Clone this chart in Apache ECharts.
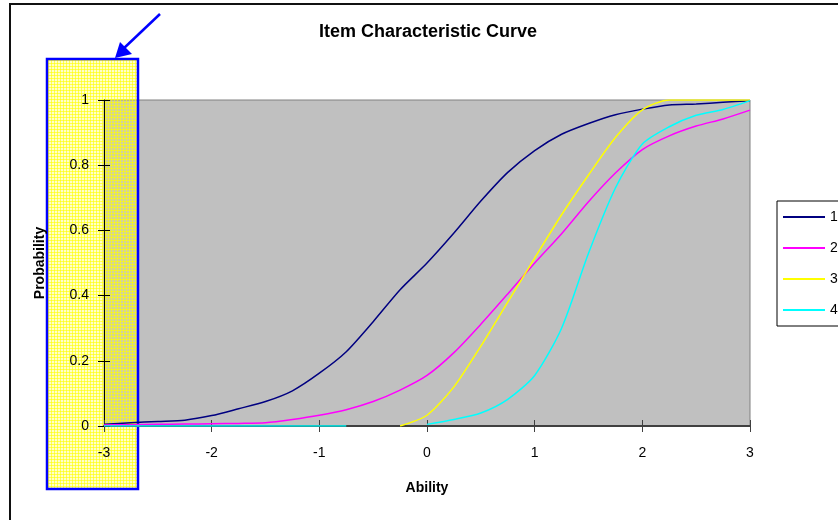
<!DOCTYPE html>
<html>
<head>
<meta charset="utf-8">
<script src="https://cdn.jsdelivr.net/npm/echarts@6/dist/echarts.min.js"></script>
<style>
  html, body { margin: 0; padding: 0; background: #fff; }
  #chart { width: 838px; height: 520px; }
</style>
</head>
<body>
<div id="chart"></div>
<script>
// ability points on the x axis
const abilities = [-3, -2.75, -2.5, -2.25, -2, -1.75, -1.5, -1.25, -1, -0.75, -0.5, -0.25,
  0, 0.25, 0.5, 0.75, 1, 1.25, 1.5, 1.75, 2, 2.25, 2.5, 2.75, 3]

// probability of each item
const item1 = [0.005, 0.010, 0.014, 0.018, 0.032, 0.053, 0.075, 0.108, 0.162, 0.228, 0.320, 0.418,
  0.500, 0.592, 0.690, 0.778, 0.845, 0.895, 0.928, 0.955, 0.972, 0.985, 0.988, 0.993, 0.998]
const item2 = [0.003, 0.004, 0.005, 0.006, 0.007, 0.008, 0.010, 0.020, 0.033, 0.050, 0.075, 0.110,
  0.155, 0.225, 0.312, 0.405, 0.500, 0.590, 0.688, 0.776, 0.848, 0.890, 0.920, 0.942, 0.969]
const item3 = [null, null, null, null, null, null, null, null, null, null, null, 0,
  0.033, 0.120, 0.245, 0.380, 0.515, 0.648, 0.770, 0.885, 0.970, 1, 1, 1, 1]
const item4 = [0, 0, 0, 0, 0, 0, 0, 0, 0, 0, null, null,
  0.005, 0.020, 0.040, 0.082, 0.155, 0.300, 0.530, 0.730, 0.865, 0.918, 0.953, 0.971, 0.998]

const itemNames = ['1', '2', '3', '4']
const itemColors = ['#000080', '#FF00FF', '#FFFF00', '#00FFFF']
const itemValues = [item1, item2, item3, item4]

const chart = echarts.init(document.getElementById('chart'), null, {renderer: 'canvas'})

// yellow grid pattern for the highlight box
const pat = document.createElement('canvas')
pat.width = 3
pat.height = 3
const pctx = pat.getContext('2d')
pctx.fillStyle = 'rgba(255,255,60,0.28)'
pctx.fillRect(0, 0, 3, 3)
pctx.fillStyle = 'rgba(255,255,0,0.6)'
pctx.fillRect(0, 0, 3, 1)
pctx.fillRect(0, 0, 1, 3)

const font = '"Liberation Sans", Arial, sans-serif'

const option = {
  animation: false,
  title: {
    text: 'Item Characteristic Curve',
    left: 428,
    top: 23,
    textAlign: 'center',
    padding: 0,
    textStyle: {fontFamily: font, fontSize: 18, fontWeight: 'bold', color: '#000'}
  },
  legend: {
    orient: 'vertical',
    left: 777,
    top: 201,
    padding: [9, 40, 9, 6],
    icon: 'rect',
    itemWidth: 42,
    itemHeight: 2,
    itemGap: 17,
    borderColor: '#000',
    borderWidth: 1,
    backgroundColor: '#fff',
    data: itemNames,
    textStyle: {fontFamily: font, fontSize: 14, lineHeight: 14, color: '#000'}
  },
  grid: {
    left: 104,
    top: 100,
    right: 88,
    bottom: 94,
    show: true,
    backgroundColor: '#C0C0C0',
    borderColor: '#808080',
    borderWidth: 1
  },
  xAxis: [
    {
      type: 'value',
      min: -3,
      max: 3,
      interval: 1,
      z: 3,
      name: 'Ability',
      nameLocation: 'middle',
      nameGap: 55,
      nameTextStyle: {fontFamily: font, fontSize: 14, fontWeight: 'bold', color: '#000'},
      splitLine: {show: false},
      axisLine: {onZero: false, lineStyle: {color: '#404040', width: 2}},
      axisTick: {show: true, length: 6, lineStyle: {color: '#404040'}},
      axisLabel: {fontFamily: font, fontSize: 14, color: '#000', margin: 20}
    },
    {
      type: 'value',
      min: -3,
      max: 3,
      interval: 1,
      z: 3,
      position: 'bottom',
      splitLine: {show: false},
      axisLine: {show: false, onZero: false},
      axisTick: {show: true, inside: true, length: 6, lineStyle: {color: '#404040'}},
      axisLabel: {show: false}
    }
  ],
  yAxis: [
    {
      type: 'value',
      min: 0,
      max: 1,
      interval: 0.2,
      z: 3,
      name: 'Probability',
      nameLocation: 'middle',
      nameGap: 57,
      nameTextStyle: {fontFamily: font, fontSize: 14, fontWeight: 'bold', color: '#000'},
      splitLine: {show: false},
      axisLine: {show: true, onZero: false, lineStyle: {color: '#000', width: 1}},
      axisTick: {show: true, length: 6, lineStyle: {color: '#000'}},
      axisLabel: {fontFamily: font, fontSize: 14, color: '#000', margin: 15}
    },
    {
      type: 'value',
      min: 0,
      max: 1,
      interval: 0.2,
      z: 3,
      position: 'left',
      splitLine: {show: false},
      axisLine: {show: false, onZero: false},
      axisTick: {show: true, inside: true, length: 6, lineStyle: {color: '#000'}},
      axisLabel: {show: false}
    }
  ],
  series: itemNames.map((name, i) => ({
    name: name,
    type: 'line',
    xAxisIndex: 0,
    yAxisIndex: 0,
    z: 4,
    symbol: 'none',
    smooth: 0.25,
    connectNulls: false,
    color: itemColors[i],
    lineStyle: {color: itemColors[i], width: 1.5},
    data: abilities.map((a, k) => [a, itemValues[i][k]])
  })),
  graphic: [
    // outer chart border
    {
      type: 'rect',
      z: 100,
      shape: {x: 10, y: 4, width: 900, height: 600},
      style: {fill: 'none', stroke: '#111', lineWidth: 2}
    },
    // highlight box over the y axis, under axis text and lines
    {
      type: 'rect',
      z: 1,
      shape: {x: 47, y: 59, width: 91, height: 430},
      style: {fill: {image: pat, repeat: 'repeat'}, stroke: '#0000FF', lineWidth: 2.5}
    },
    // arrow pointing at the box
    {
      type: 'line',
      z: 100,
      shape: {x1: 160, y1: 14, x2: 122, y2: 50},
      style: {stroke: '#0000FF', lineWidth: 2.5}
    },
    {
      type: 'polygon',
      z: 100,
      shape: {points: [[115, 58], [120, 42], [132, 54]]},
      style: {fill: '#0000FF'}
    }
  ]
}

chart.setOption(option)
</script>
</body>
</html>
